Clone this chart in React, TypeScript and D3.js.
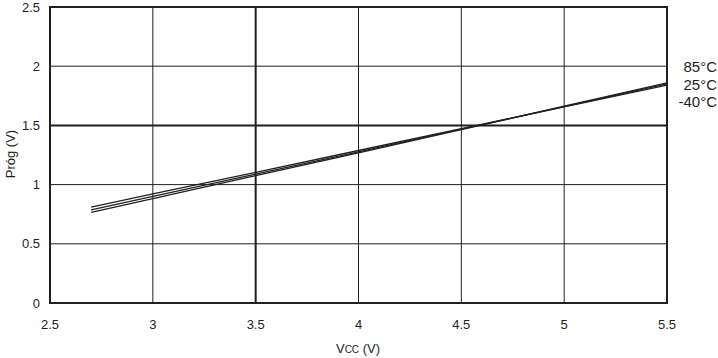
import React from "react";
import * as d3 from "d3";

const vcc = [2.7, 3, 3.5, 4, 4.5, 5, 5.5];
const series85 = [0.765, 0.882, 1.075, 1.268, 1.465, 1.662, 1.86];
const series25 = [0.787, 0.901, 1.088, 1.277, 1.468, 1.659, 1.85];
const seriesM40 = [0.81, 0.922, 1.104, 1.288, 1.472, 1.656, 1.84];
const xTicks = [2.5, 3, 3.5, 4, 4.5, 5, 5.5];
const yTicks = [0, 0.5, 1, 1.5, 2, 2.5];
const legendLabels = ["85°C", "25°C", "-40°C"];

export default function App() {
  const W = 718, H = 358;
  const left = 50, right = 667, top = 7, bottom = 303;
  const x = d3.scaleLinear().domain([2.5, 5.5]).range([left, right]);
  const y = d3.scaleLinear().domain([0, 2.5]).range([bottom, top]);
  const line = d3.line<number>().x((_, i) => x(vcc[i])).y((d) => y(d));
  const font = "'Liberation Sans', Arial, sans-serif";
  const ink = "#231f20";
  return (
    <svg width={W} height={H} style={{ position: "absolute", left: 0, top: 0 }} fontFamily={font}>
      <rect width={W} height={H} fill="#fff" />
      {xTicks.slice(1, -1).map((t) => (
        <line key={"gx" + t} x1={x(t)} x2={x(t)} y1={top} y2={bottom} stroke={ink} strokeWidth={t === 3.5 ? 2 : 1} />
      ))}
      {yTicks.slice(1, -1).map((t) => (
        <line key={"gy" + t} x1={left} x2={right} y1={y(t)} y2={y(t)} stroke={ink} strokeWidth={t === 1.5 ? 2 : 1} />
      ))}
      <rect x={left} y={top} width={right - left} height={bottom - top} fill="none" stroke={ink} strokeWidth={2} />
      {[series85, series25, seriesM40].map((s, i) => (
        <path key={i} d={line(s) || ""} fill="none" stroke={ink} strokeWidth={1.3} />
      ))}
      {yTicks.map((t) => (
        <text key={"ty" + t} x={40} y={y(t) + 4.5} textAnchor="end" fontSize={13} fill={ink}>{t}</text>
      ))}
      {xTicks.map((t) => (
        <text key={"tx" + t} x={x(t)} y={329} textAnchor="middle" fontSize={13} fill={ink}>{t}</text>
      ))}
      <text x={358} y={353} textAnchor="middle" fontSize={13} fill={ink}>
        V<tspan fontSize={10}>CC</tspan> (V)
      </text>
      <text transform={`translate(15,154) rotate(-90)`} textAnchor="middle" fontSize={13} fill={ink}>Próg (V)</text>
      {legendLabels.map((l, i) => (
        <text key={l} x={717} y={72 + i * 17.5} textAnchor="end" fontSize={15} fill={ink}>{l}</text>
      ))}
    </svg>
  );
}
